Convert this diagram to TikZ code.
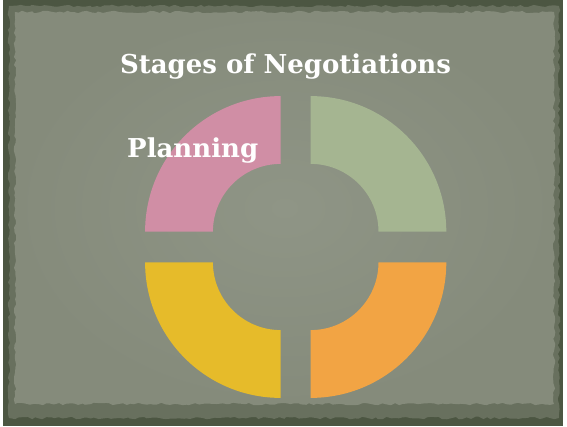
\documentclass[tikz,border=0pt]{standalone}
\usepackage{fontspec}
\setmainfont{DejaVu Serif}
\usetikzlibrary{positioning, decorations.pathmorphing}
\definecolor{framedark}{RGB}{76,86,66}
\definecolor{framemid}{RGB}{104,112,94}
\definecolor{paper}{RGB}{133,139,123}
\definecolor{paperlight}{RGB}{143,149,134}
\definecolor{planpink}{RGB}{208,142,165}
\definecolor{sagegreen}{RGB}{165,181,145}
\definecolor{mustard}{RGB}{230,187,42}
\definecolor{apricot}{RGB}{242,164,68}

\tikzset{
  torn/.style={decorate, decoration={random steps, segment length=4pt, amplitude=1.3pt}},
  heading/.style={text=white, font=\bfseries\fontsize{26}{32}\selectfont, inner sep=0pt},
  stagelabel/.style={text=white, font=\bfseries\fontsize{26}{32}\selectfont, inner sep=0pt},
}

\begin{document}
\begin{tikzpicture}[x=1pt, y=1pt]
  \useasboundingbox (0,0) rectangle (567,426);
  % slide frame and torn paper
  \fill[white] (0,0) rectangle (567,426);
  \fill[framedark] (3,0) rectangle (563,426);
  \fill[framemid, torn] (9,8) rectangle (559,420);
  \shade[inner color=paperlight, outer color=paper, torn] (15,22) rectangle (554,414);

  % corners of the four quarter rings
  \coordinate (cpink) at (280.7,194.3);
  \coordinate (cgreen) at (310.7,194.3);
  \coordinate (cyellow) at (280.7,163.7);
  \coordinate (corange) at (310.7,163.7);

  \foreach \c/\a/\col in {cpink/90/planpink, cgreen/0/sagegreen, cyellow/180/mustard, corange/270/apricot}
    \fill[\col] (\c) ++(\a:135.6) arc[start angle=\a, delta angle=90, radius=135.6]
      -- ++(\a+270:67.8) arc[start angle=\a+90, delta angle=-90, radius=67.8] -- cycle;

  % texts
  \node[heading, anchor=base] (title) at (285.5,352.7) {Stages of Negotiations};
  \node[stagelabel, anchor=base west] (planning) at (127,268) {Planning};
\end{tikzpicture}
\end{document}
